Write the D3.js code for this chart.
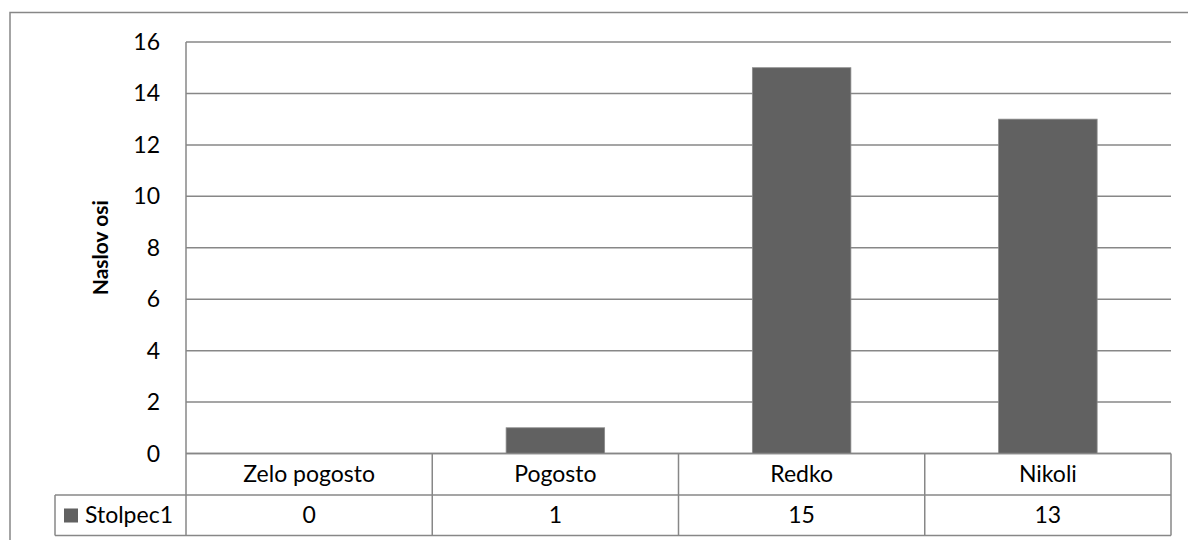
<!DOCTYPE html>
<html>
<head>
<meta charset="utf-8">
<script src="https://cdn.jsdelivr.net/npm/d3@7.9.0/dist/d3.min.js"></script>
<style>
  body { margin: 0; background: #fff; }
  svg { display: block; font-family: Lato, "Open Sans", sans-serif; }
</style>
</head>
<body>
<svg id="chart" width="1188" height="540"></svg>
<script>
const categories = ['Zelo pogosto', 'Pogosto', 'Redko', 'Nikoli'];
const values = [0, 1, 15, 13];
const seriesName = 'Stolpec1';
const yTicks = [0, 2, 4, 6, 8, 10, 12, 14, 16];
const axisTitle = 'Naslov osi';

const svg = d3.select('#chart');
const grid = '#878787';
const barColor = '#616161';
const fs = 23;

const plotLeft = 186, plotRight = 1171, plotTop = 42, base = 453.5;
const row1 = 495, row2 = 535.5, legendLeft = 55;

// outer chart border (runs off the right/bottom edge)
svg.append('rect')
  .attr('x', 10).attr('y', 12.5)
  .attr('width', 1200).attr('height', 600)
  .attr('fill', 'none').attr('stroke', grid).attr('stroke-width', 1.5);

const x = d3.scaleBand().domain(categories).range([plotLeft, plotRight]).paddingInner(0).paddingOuter(0);
const y = d3.scaleLinear().domain([0, 16]).range([base, plotTop]);

// gridlines
svg.append('g').selectAll('line').data(yTicks).join('line')
  .attr('x1', plotLeft).attr('x2', plotRight)
  .attr('y1', d => y(d)).attr('y2', d => y(d))
  .attr('stroke', grid).attr('stroke-width', 1.5);

// y labels
svg.append('g').selectAll('text').data(yTicks).join('text')
  .attr('x', 160).attr('y', d => y(d))
  .attr('dy', '0.35em')
  .attr('text-anchor', 'end')
  .attr('font-size', fs)
  .attr('fill', '#000')
  .text(d => d);

// axis title
svg.append('text')
  .attr('transform', `translate(101,${(plotTop + base) / 2}) rotate(-90)`)
  .attr('text-anchor', 'middle')
  .attr('dy', '0.35em')
  .attr('font-size', 21)
  .attr('font-weight', 'bold')
  .text(axisTitle);

// bars
const barW = x.bandwidth() * 0.4;
svg.append('g').selectAll('rect').data(categories).join('rect')
  .attr('x', d => x(d) + (x.bandwidth() - barW) / 2)
  .attr('width', barW)
  .attr('y', (d, i) => y(values[i]))
  .attr('height', (d, i) => base - y(values[i]))
  .attr('fill', barColor)
  .attr('stroke', '#8a8a8a').attr('stroke-width', 0.8);

// data table
const t = svg.append('g').attr('stroke', grid).attr('stroke-width', 1.5).attr('fill', 'none');
t.append('line').attr('x1', plotLeft).attr('x2', plotRight).attr('y1', base).attr('y2', base);
t.append('line').attr('x1', legendLeft).attr('x2', plotRight).attr('y1', row1).attr('y2', row1);
t.append('line').attr('x1', legendLeft).attr('x2', plotRight).attr('y1', row2).attr('y2', row2);
t.append('line').attr('x1', legendLeft).attr('x2', legendLeft).attr('y1', row1).attr('y2', row2);
t.append('line').attr('x1', plotLeft).attr('x2', plotLeft).attr('y1', plotTop).attr('y2', row2);
t.selectAll('line.div').data(categories).join('line').attr('class', 'div')
  .attr('x1', d => x(d) + x.bandwidth()).attr('x2', d => x(d) + x.bandwidth())
  .attr('y1', base).attr('y2', row2);

svg.append('g').selectAll('text').data(categories).join('text')
  .attr('x', d => x(d) + x.bandwidth() / 2)
  .attr('y', (base + row1) / 2)
  .attr('dy', '0.35em')
  .attr('text-anchor', 'middle')
  .attr('font-size', fs)
  .text(d => d);

svg.append('g').selectAll('text').data(categories).join('text')
  .attr('x', d => x(d) + x.bandwidth() / 2)
  .attr('y', (row1 + row2) / 2)
  .attr('dy', '0.35em')
  .attr('text-anchor', 'middle')
  .attr('font-size', fs)
  .text((d, i) => values[i]);

// legend key in table
svg.append('rect')
  .attr('x', 64).attr('y', 508.5).attr('width', 14).attr('height', 14)
  .attr('fill', barColor);
svg.append('text')
  .attr('x', 85).attr('y', (row1 + row2) / 2)
  .attr('dy', '0.35em')
  .attr('font-size', fs)
  .text(seriesName);
</script>
</body>
</html>
